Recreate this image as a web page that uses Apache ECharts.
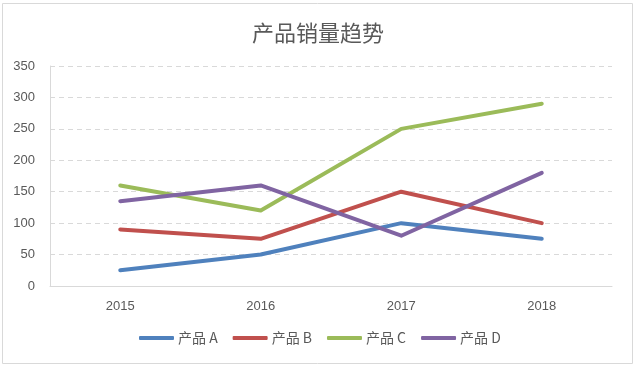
<!DOCTYPE html>
<html><head><meta charset="utf-8">
<script src="https://cdn.jsdelivr.net/npm/echarts@6/dist/echarts.min.js"></script>
<style>html,body{margin:0;padding:0;background:#fff}#c{width:644px;height:373px}</style>
</head><body><div id="c"></div>
<script>
const title = '产品销量趋势';
const categories = ['2015', '2016', '2017', '2018'];
const seriesNames = ['产品 A', '产品 B', '产品 C', '产品 D'];
const productA = [25, 50, 100, 75];
const productB = [90, 75, 150, 100];
const productC = [160, 120, 250, 290];
const productD = [135, 160, 80, 180];
const yTicks = [0, 50, 100, 150, 200, 250, 300, 350];
const colors = ['#4F81BD', '#C0504D', '#9BBB59', '#8064A2'];
const values = [productA, productB, productC, productD];

const chart = echarts.init(document.getElementById('c'), null, {renderer: 'canvas'});
const font = '"Liberation Sans", "Noto Sans CJK SC", sans-serif';
chart.setOption({
  animation: false,
  color: colors,
  graphic: [{type: 'rect', shape: {x: 2.5, y: 3.5, width: 630, height: 360}, style: {fill: 'none', stroke: '#d9d9d9', lineWidth: 1}, silent: true, z: -1}],
  title: {text: title, left: 247, top: 17, textStyle: {fontFamily: '"Noto Sans CJK SC", sans-serif', fontSize: 22, fontWeight: 'normal', color: '#595959'}},
  grid: {left: 50, right: 32, top: 66, bottom: 87},
  legend: {
    data: seriesNames, bottom: 23, left: 134, icon: 'roundRect', itemWidth: 35, itemHeight: 4, itemGap: 15,
    textStyle: {fontFamily: '"Noto Sans CJK SC", sans-serif', fontSize: 14, color: '#595959', padding: [0, 0, 0, -1]}
  },
  xAxis: {
    type: 'category', data: categories, boundaryGap: true,
    axisLine: {lineStyle: {color: '#d9d9d9', width: 1}}, axisTick: {show: false},
    axisLabel: {fontFamily: font, fontSize: 13, color: '#595959', margin: 14}
  },
  yAxis: {
    type: 'value', min: yTicks[0], max: yTicks[yTicks.length - 1], interval: 50,
    axisLine: {show: true, lineStyle: {color: '#d9d9d9', width: 1}}, axisTick: {show: false},
    axisLabel: {fontFamily: font, fontSize: 13, color: '#595959', margin: 15},
    splitLine: {lineStyle: {color: '#d9d9d9', type: [5, 4], width: 1}}
  },
  series: values.map((v, i) => ({
    name: seriesNames[i], type: 'line', data: v, symbol: 'none',
    lineStyle: {width: 4, color: colors[i], cap: 'round', join: 'round'}
  }))
});
</script></body></html>
